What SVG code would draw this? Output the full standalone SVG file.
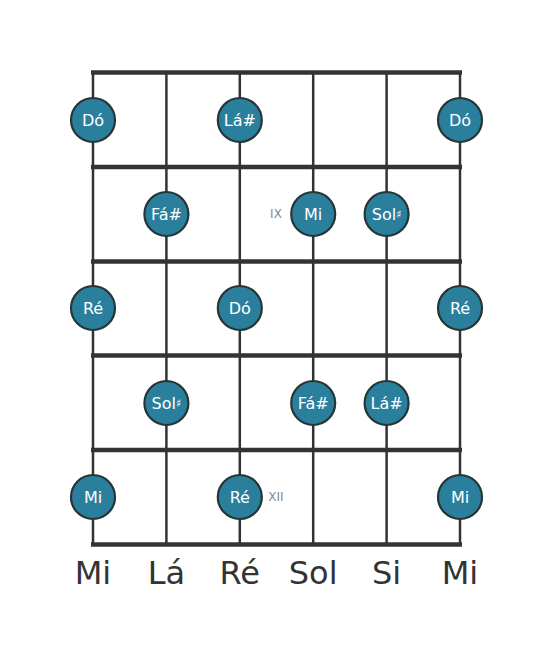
<svg xmlns="http://www.w3.org/2000/svg" width="553" height="656" viewBox="0 0 553 656">
<style>
.str{stroke:#333;stroke-width:2.5}
.fret{stroke:#333;stroke-width:4.5}
.note circle{fill:#2a7f9d;stroke:#263535;stroke-width:2.2}
.note text{fill:#fff;font-family:"DejaVu Sans",sans-serif;font-size:16px;text-anchor:middle;dominant-baseline:central}
.pos{fill:#888;font-family:"DejaVu Sans",sans-serif;font-size:12px;text-anchor:middle;dominant-baseline:central}
.lbl{fill:#333;font-family:"DejaVu Sans",sans-serif;font-size:32px;text-anchor:middle}
</style>
<rect width="553" height="656" fill="#fff"/>
<g id="connectors">
<line class="str" x1="93" y1="72" x2="93" y2="545"/>
<line class="str" x1="166.4" y1="72" x2="166.4" y2="545"/>
<line class="str" x1="239.8" y1="72" x2="239.8" y2="545"/>
<line class="str" x1="313.2" y1="72" x2="313.2" y2="545"/>
<line class="str" x1="386.6" y1="72" x2="386.6" y2="545"/>
<line class="str" x1="460" y1="72" x2="460" y2="545"/>
<line class="fret" x1="91" y1="72.5" x2="462" y2="72.5"/>
<line class="fret" x1="91" y1="167" x2="462" y2="167"/>
<line class="fret" x1="91" y1="261.5" x2="462" y2="261.5"/>
<line class="fret" x1="91" y1="355.5" x2="462" y2="355.5"/>
<line class="fret" x1="91" y1="450" x2="462" y2="450"/>
<line class="fret" x1="91" y1="544.5" x2="462" y2="544.5"/>
</g>
<g id="n1" class="note"><circle cx="93" cy="120" r="22"/><text x="93" y="120">Dó</text></g>
<g id="n2" class="note"><circle cx="239.8" cy="120" r="22"/><text x="239.8" y="120">Lá#</text></g>
<g id="n3" class="note"><circle cx="460" cy="120" r="22"/><text x="460" y="120">Dó</text></g>
<g id="n4" class="note"><circle cx="166.4" cy="214" r="22"/><text x="166.4" y="214">Fá#</text></g>
<g id="n5" class="note"><circle cx="313.2" cy="214" r="22"/><text x="313.2" y="214">Mi</text></g>
<g id="n6" class="note"><circle cx="386.6" cy="214" r="22"/><text x="386.6" y="214">Sol<tspan font-size="11">♯</tspan></text></g>
<g id="n7" class="note"><circle cx="93" cy="308" r="22"/><text x="93" y="308">Ré</text></g>
<g id="n8" class="note"><circle cx="239.8" cy="308" r="22"/><text x="239.8" y="308">Dó</text></g>
<g id="n9" class="note"><circle cx="460" cy="308" r="22"/><text x="460" y="308">Ré</text></g>
<g id="n10" class="note"><circle cx="166.4" cy="403" r="22"/><text x="166.4" y="403">Sol<tspan font-size="11">♯</tspan></text></g>
<g id="n11" class="note"><circle cx="313.2" cy="403" r="22"/><text x="313.2" y="403">Fá#</text></g>
<g id="n12" class="note"><circle cx="386.6" cy="403" r="22"/><text x="386.6" y="403">Lá#</text></g>
<g id="n13" class="note"><circle cx="93" cy="497" r="22"/><text x="93" y="497">Mi</text></g>
<g id="n14" class="note"><circle cx="239.8" cy="497" r="22"/><text x="239.8" y="497">Ré</text></g>
<g id="n15" class="note"><circle cx="460" cy="497" r="22"/><text x="460" y="497">Mi</text></g>
<text class="pos" x="276" y="214">IX</text>
<text class="pos" x="276" y="497">XII</text>
<g id="labels">
<text class="lbl" x="93" y="584">Mi</text>
<text class="lbl" x="166.4" y="584">Lá</text>
<text class="lbl" x="239.8" y="584">Ré</text>
<text class="lbl" x="313.2" y="584">Sol</text>
<text class="lbl" x="386.6" y="584">Si</text>
<text class="lbl" x="460" y="584">Mi</text>
</g>
</svg>
